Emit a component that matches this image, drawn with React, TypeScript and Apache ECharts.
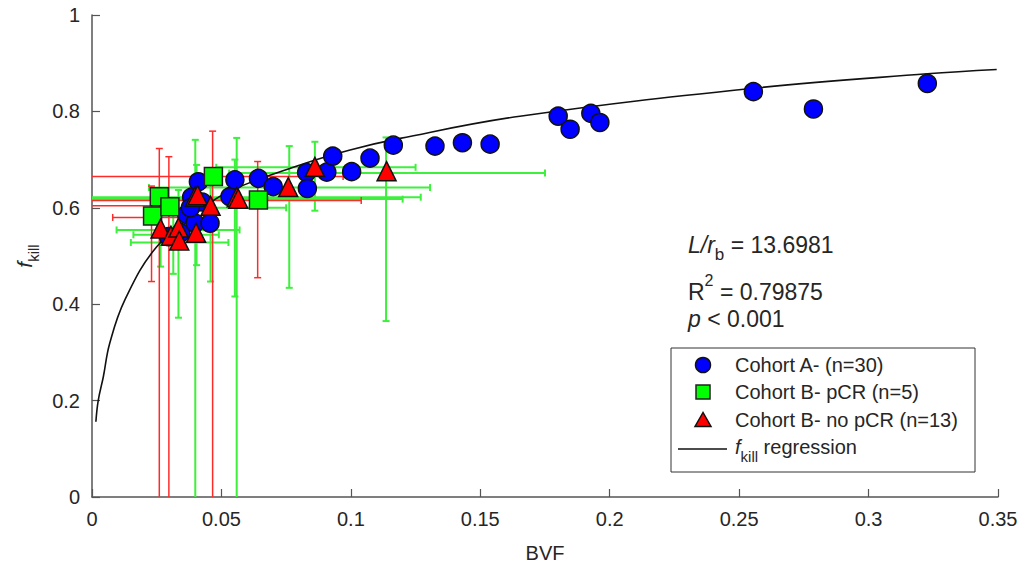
import React, { useEffect, useRef } from "react";
import * as echarts from "echarts";

// ---- data ----
const cohortA: [number, number][] = [
  [0.0296, 0.54], [0.0343, 0.548], [0.0366, 0.586], [0.0385, 0.622], [0.0398, 0.568],
  [0.0411, 0.654], [0.0425, 0.612], [0.0456, 0.568], [0.0533, 0.623], [0.0552, 0.658],
  [0.0643, 0.661], [0.07, 0.644], [0.0829, 0.673], [0.0832, 0.64], [0.0907, 0.674],
  [0.093, 0.707], [0.1003, 0.675], [0.1074, 0.703], [0.1164, 0.73], [0.1325, 0.728],
  [0.1431, 0.735], [0.1538, 0.732], [0.1801, 0.79], [0.1847, 0.763], [0.1927, 0.796],
  [0.1962, 0.777], [0.2555, 0.841], [0.2787, 0.805], [0.3227, 0.858], [0.038, 0.6],
];
const cohortBpCR: [number, number][] = [
  [0.0234, 0.583], [0.026, 0.623], [0.0301, 0.602], [0.0469, 0.665], [0.0643, 0.616],
];
const cohortBnoPCR: [number, number][] = [
  [0.0265, 0.557], [0.0305, 0.542], [0.0334, 0.559], [0.0337, 0.532], [0.0402, 0.548],
  [0.0398, 0.623], [0.0408, 0.626], [0.0458, 0.604], [0.0559, 0.622], [0.0565, 0.619],
  [0.0758, 0.643], [0.0861, 0.685], [0.1138, 0.676],
];
const regressionCurve: [number, number][] = [
  [0.0015, 0.156], [0.0024, 0.2], [0.0044, 0.25], [0.0068, 0.318], [0.0127, 0.409],
  [0.025, 0.519], [0.0417, 0.595], [0.0533, 0.635], [0.0804, 0.689], [0.0997, 0.72],
  [0.119, 0.744], [0.1653, 0.79], [0.2555, 0.848], [0.3227, 0.878], [0.3495, 0.887],
];
// vertical error bars: [BVF, fkill low, fkill high]
const vErrGreen: [number, number, number][] = [
  [0.0399, -0.1, 0.741], [0.0559, -0.1, 0.745], [0.0265, 0.478, 0.64], [0.0314, 0.463, 0.6],
  [0.0334, 0.372, 0.637], [0.0404, 0.481, 0.689], [0.0458, 0.447, 0.66], [0.0552, 0.416, 0.7],
  [0.0762, 0.434, 0.728], [0.0861, 0.594, 0.737], [0.1136, 0.365, 0.746],
];
const vErrRed: [number, number, number][] = [
  [0.026, -0.1, 0.723], [0.0297, -0.1, 0.706], [0.0466, -0.1, 0.759],
  [0.064, 0.455, 0.696], [0.023, 0.447, 0.645],
];
// horizontal error bars: [fkill, BVF low, BVF high]
const hErrGreen: [number, number, number][] = [
  [0.684, 0.048, 0.125], [0.672, 0.053, 0.175], [0.642, 0.022, 0.1306], [0.622, -0.02, 0.127],
  [0.618, -0.02, 0.12], [0.6, 0.03, 0.075], [0.554, 0.0095, 0.057], [0.544, 0.016, 0.049],
  [0.528, 0.015, 0.0527],
];
const hErrRed: [number, number, number][] = [
  [0.665, -0.02, 0.097], [0.615, -0.02, 0.104], [0.604, -0.02, 0.03], [0.58, 0.008, 0.037],
];

const legendLabels = ["Cohort A- (n=30)", "Cohort B- pCR (n=5)", "Cohort B- no pCR (n=13)", "fkill regression"];

const FONT = "'Liberation Sans', Arial, sans-serif";
const TXT = "#262626";
const BLUE = "#0000ff";
const LIME = "#00ff00";
const RED = "#ff0000";

function errorSeries(data: [number, number, number][], vertical: boolean, color: string, width: number) {
  return {
    type: "custom",
    silent: true,
    z: 1,
    data,
    encode: vertical ? { x: 0, y: [1, 2] } : { y: 0, x: [1, 2] },
    renderItem: (_params: any, api: any) => {
      const c = api.value(0);
      const lo = api.value(1);
      const hi = api.value(2);
      const loC = Math.max(lo, 0);
      const p1 = vertical ? api.coord([c, loC]) : api.coord([loC, c]);
      const p2 = vertical ? api.coord([c, hi]) : api.coord([hi, c]);
      const cap = 3.5;
      const style = { stroke: color, lineWidth: width };
      const children: any[] = [
        { type: "line", shape: { x1: p1[0], y1: p1[1], x2: p2[0], y2: p2[1] }, style },
      ];
      const ends = lo >= 0 ? [p1, p2] : [p2];
      for (const p of ends) {
        children.push(
          vertical
            ? { type: "line", shape: { x1: p[0] - cap, y1: p[1], x2: p[0] + cap, y2: p[1] }, style }
            : { type: "line", shape: { x1: p[0], y1: p[1] - cap, x2: p[0], y2: p[1] + cap }, style }
        );
      }
      return { type: "group", children };
    },
  };
}

export default function App() {
  const ref = useRef<HTMLDivElement>(null);
  useEffect(() => {
    if (!ref.current) return;
    const chart = echarts.init(ref.current, null, { renderer: "svg" });
    const green = "#3cf03c";
    const red = "#ff2a2a";
    const axisColor = "#555555";

    // legend drawn as graphic elements
    const lx = 671, ly = 348, lw = 304, lh = 124;
    const mx = 703;
    const rows = [365, 392, 420, 449];
    const legendGraphic: any[] = [
      { type: "rect", shape: { x: lx, y: ly, width: lw, height: lh }, style: { fill: "#ffffff", stroke: "#333333", lineWidth: 1 }, z: 10 },
      { type: "circle", shape: { cx: mx, cy: rows[0], r: 7.5 }, style: { fill: BLUE, stroke: "#111111", lineWidth: 1.5 }, z: 11 },
      { type: "rect", shape: { x: mx - 7, y: rows[1] - 7, width: 14, height: 14 }, style: { fill: LIME, stroke: "#222222", lineWidth: 1.5 }, z: 11 },
      { type: "polygon", shape: { points: [[mx, rows[2] - 7.5], [mx - 8, rows[2] + 6.5], [mx + 8, rows[2] + 6.5]] }, style: { fill: RED, stroke: "#111111", lineWidth: 1.5 }, z: 11 },
      { type: "line", shape: { x1: 678, y1: rows[3], x2: 727, y2: rows[3] }, style: { stroke: "#111111", lineWidth: 1.5 }, z: 11 },
    ];
    for (let k = 0; k < 3; k++) {
      legendGraphic.push({
        type: "text", x: 735, y: rows[k], z: 11,
        style: { text: legendLabels[k], fontSize: 20, fontFamily: FONT, fill: TXT, verticalAlign: "middle", align: "left" },
      });
    }
    legendGraphic.push({
      type: "text", x: 735, y: rows[3] - 12, z: 11,
      style: {
        text: "{i|f}{s|kill}{t| regression}",
        verticalAlign: "top", align: "left", fill: TXT,
        rich: {
          i: { fontSize: 20, fontStyle: "italic", lineHeight: 24, verticalAlign: "top", fontFamily: FONT, fill: TXT },
          s: { fontSize: 15, lineHeight: 27, verticalAlign: "bottom", fontFamily: FONT, fill: TXT },
          t: { fontSize: 20, lineHeight: 24, verticalAlign: "top", fontFamily: FONT, fill: TXT },
        },
      },
    });

    chart.setOption({
      animation: false,
      backgroundColor: "#ffffff",
      textStyle: { fontFamily: FONT },
      grid: { left: 92, right: 35, top: 15, bottom: 67, outerBoundsMode: "none", containLabel: false },
      xAxis: {
        type: "value",
        min: 0,
        max: 0.35,
        interval: 0.05,
        name: "BVF",
        nameLocation: "middle",
        nameGap: 46,
        nameTextStyle: { fontSize: 20, color: TXT, fontFamily: FONT },
        axisLine: { show: true, lineStyle: { color: axisColor, width: 1.5 } },
        axisTick: { show: true, inside: true, length: 8, lineStyle: { color: axisColor, width: 1.2 } },
        axisLabel: { fontSize: 20, color: TXT, margin: 12, fontFamily: FONT },
        splitLine: { show: false },
      },
      yAxis: {
        type: "value",
        min: 0,
        max: 1,
        interval: 0.2,
        name: "{i|f}{s|kill}",
        nameLocation: "middle",
        nameGap: 38,
        nameRotate: 90,
        nameTextStyle: {
          fontFamily: FONT,
          color: TXT,
          rich: {
            i: { fontSize: 21, fontStyle: "italic", lineHeight: 24, verticalAlign: "top", color: TXT, fontFamily: FONT },
            s: { fontSize: 15, lineHeight: 27, verticalAlign: "bottom", color: TXT, fontFamily: FONT },
          },
        },
        axisLine: { show: true, lineStyle: { color: axisColor, width: 1.5 } },
        axisTick: { show: true, inside: true, length: 8, lineStyle: { color: axisColor, width: 1.2 } },
        axisLabel: { fontSize: 20, color: TXT, margin: 12, fontFamily: FONT },
        splitLine: { show: false },
      },
      graphic: [
        {
          type: "text",
          x: 688,
          y: 233,
          style: {
            text: "{i|L/r}{s|b}{n| = 13.6981}",
            verticalAlign: "top",
            align: "left",
            fill: TXT,
            rich: {
              i: { fontSize: 23, fontStyle: "italic", lineHeight: 26, verticalAlign: "top", fontFamily: FONT, fill: TXT },
              s: { fontSize: 17, lineHeight: 30, verticalAlign: "bottom", fontFamily: FONT, fill: TXT },
              n: { fontSize: 23, lineHeight: 26, verticalAlign: "top", fontFamily: FONT, fill: TXT },
            },
          },
        },
        {
          type: "text",
          x: 688,
          y: 272,
          style: {
            text: "{n|R}{p|2}{n| = 0.79875}",
            verticalAlign: "top",
            align: "left",
            fill: TXT,
            rich: {
              n: { fontSize: 23, lineHeight: 31, verticalAlign: "bottom", fontFamily: FONT, fill: TXT },
              p: { fontSize: 16, lineHeight: 17, verticalAlign: "top", fontFamily: FONT, fill: TXT },
            },
          },
        },
        {
          type: "text",
          x: 688,
          y: 306,
          style: {
            text: "{i|p}{n| < 0.001}",
            verticalAlign: "top",
            align: "left",
            fill: TXT,
            rich: {
              i: { fontSize: 23, fontStyle: "italic", lineHeight: 26, fontFamily: FONT, fill: TXT },
              n: { fontSize: 23, lineHeight: 26, fontFamily: FONT, fill: TXT },
            },
          },
        },
        ...legendGraphic,
      ],
      series: [
        errorSeries(hErrGreen, false, green, 2),
        errorSeries(vErrGreen, true, green, 2),
        errorSeries(hErrRed, false, red, 1.5),
        errorSeries(vErrRed, true, red, 1.5),
        {
          name: "fkill regression",
          type: "line",
          data: regressionCurve,
          smooth: 0.4,
          symbol: "none",
          z: 2,
          lineStyle: { color: "#111111", width: 1.6 },
          itemStyle: { color: "#111111" },
        },
        {
          name: "Cohort A- (n=30)",
          type: "scatter",
          data: cohortA,
          symbol: "circle",
          symbolSize: 18,
          z: 3,
          itemStyle: { color: BLUE, borderColor: "#111111", borderWidth: 1.5, opacity: 1 },
        },
        {
          name: "Cohort B- pCR (n=5)",
          type: "scatter",
          data: cohortBpCR,
          symbol: "rect",
          symbolSize: 18,
          z: 4,
          itemStyle: { color: LIME, borderColor: "#222222", borderWidth: 1.5, opacity: 1 },
        },
        {
          name: "Cohort B- no pCR (n=13)",
          type: "scatter",
          data: cohortBnoPCR,
          symbol: "triangle",
          symbolSize: 19,
          z: 5,
          itemStyle: { color: RED, borderColor: "#111111", borderWidth: 1.5, opacity: 1 },
        },
      ],
    });
    return () => chart.dispose();
  }, []);
  return (
    <div
      ref={ref}
      style={{ position: "absolute", left: 0, top: 0, width: 1033, height: 564 }}
    />
  );
}
